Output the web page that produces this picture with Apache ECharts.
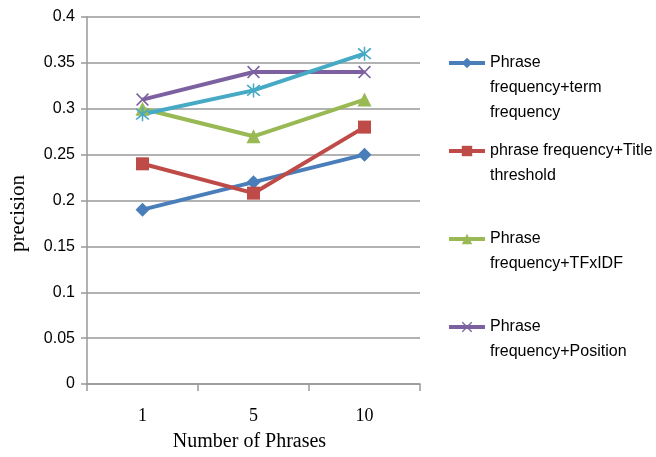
<!DOCTYPE html>
<html>
<head>
<meta charset="utf-8">
<script src="https://cdn.jsdelivr.net/npm/echarts@6/dist/echarts.min.js"></script>
<style>html,body{margin:0;padding:0;background:#fff}#c{width:656px;height:457px}</style>
</head>
<body>
<div id="c"></div>
<script>
var categories = ['1', '5', '10'];
var yTicks = [0, 0.05, 0.1, 0.15, 0.2, 0.25, 0.3, 0.35, 0.4];
var seriesNames = [
  'Phrase frequency+term frequency',
  'phrase frequency+Title threshold',
  'Phrase frequency+TFxIDF',
  'Phrase frequency+Position',
  'Series 5'
];
var legendLabels = [
  'Phrase\nfrequency+term\nfrequency',
  'phrase frequency+Title\nthreshold',
  'Phrase\nfrequency+TFxIDF',
  'Phrase\nfrequency+Position'
];
var termFreq = [0.19, 0.22, 0.25];
var titleThreshold = [0.24, 0.208, 0.28];
var tfidf = [0.30, 0.27, 0.31];
var position = [0.31, 0.34, 0.34];
var series5 = [0.294, 0.32, 0.36];

var colors = ['#4A7EBB', '#BE4B48', '#98B954', '#7D60A0', '#46AAC5'];
var xPath = 'path://M0,0.9 L0.9,0 L5,4.1 L9.1,0 L10,0.9 L5.9,5 L10,9.1 L9.1,10 L5,5.9 L0.9,10 L0,9.1 L4.1,5 Z';
var starPath = 'path://M0,0.9 L0.9,0 L5,4.1 L9.1,0 L10,0.9 L5.9,5 L10,9.1 L9.1,10 L5,5.9 L0.9,10 L0,9.1 L4.1,5 Z M4.45,-1 L5.55,-1 L5.55,11 L4.45,11 Z';
var symbols = ['diamond', 'rect', 'triangle', xPath, starPath];
var symbolSizes = [14, 13, 14, 13, 14];
var dataSets = [termFreq, titleThreshold, tfidf, position, series5];

var L = 25;
var legendCenters = [63, 151, 239, 327];
var legends = legendLabels.map(function (lab, i) {
  var n = lab.split('\n').length;
  var pre = new Array(n).join('\n');
  return {
    data: [seriesNames[i]],
    left: 447,
    top: legendCenters[i] - (2 * n - 1) * L / 2,
    padding: 0,
    itemWidth: 36,
    itemHeight: 13,
    itemGap: 0,
    lineStyle: {width: 4},
    formatter: function () { return pre + lab; },
    textStyle: {fontFamily: 'Liberation Sans', fontSize: 16, color: '#000', lineHeight: L}
  };
});

var chart = echarts.init(document.getElementById('c'));
chart.setOption({
  animation: false,
  color: colors,
  grid: {left: 83, right: 236, top: 17, bottom: 68},
  legend: legends,
  xAxis: {
    type: 'category',
    data: categories,
    boundaryGap: true,
    name: 'Number of Phrases',
    nameLocation: 'middle',
    nameGap: 48,
    nameTextStyle: {fontFamily: 'Liberation Serif', fontSize: 20, color: '#000', padding: [0, 8, 0, 0]},
    axisLine: {lineStyle: {color: '#999', width: 1.5}},
    axisTick: {show: true, length: 7, lineStyle: {color: '#999', width: 1.5}},
    axisLabel: {fontFamily: 'Liberation Serif', fontSize: 18, color: '#000', margin: 23}
  },
  yAxis: {
    type: 'value',
    min: 0,
    max: 0.4,
    interval: 0.05,
    name: 'precision',
    nameLocation: 'middle',
    nameGap: 58,
    nameTextStyle: {fontFamily: 'Liberation Serif', fontSize: 21, color: '#000', padding: [0, 26, 0, 0]},
    axisLine: {show: true, lineStyle: {color: '#999', width: 1.5}},
    axisTick: {show: true, length: 6, lineStyle: {color: '#999', width: 1.5}},
    splitLine: {lineStyle: {color: '#999', width: 1.5}},
    axisLabel: {
      fontFamily: 'Liberation Sans', fontSize: 16, color: '#000', margin: 12,
      formatter: function (v) {
        var idx = yTicks.findIndex(function (t) { return Math.abs(t - v) < 1e-9; });
        return idx >= 0 ? String(yTicks[idx]) : '';
      }
    }
  },
  series: dataSets.map(function (d, i) {
    return {
      name: seriesNames[i],
      type: 'line',
      data: d,
      symbol: symbols[i],
      symbolSize: symbolSizes[i],
      showAllSymbol: true,
      lineStyle: {width: 4, color: colors[i]},
      itemStyle: {color: colors[i]}
    };
  })
});
</script>
</body>
</html>
